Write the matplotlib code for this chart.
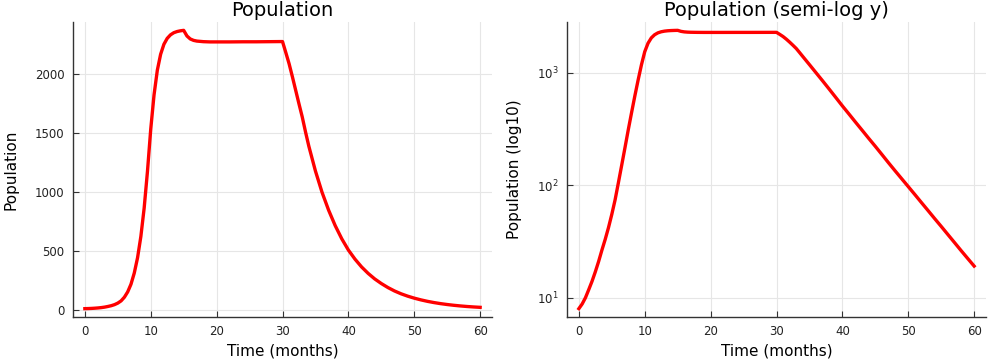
import numpy as np
import matplotlib
matplotlib.use("Agg")
from matplotlib import pyplot as plt
from matplotlib.ticker import FixedLocator, LogFormatterMathtext, NullLocator

# population (half-month steps where the curve bends)
months = [
    0, 0.5, 1, 1.5, 2, 2.5, 3, 3.5, 4, 4.5,
    5, 5.5, 6, 6.5, 7, 7.5, 8, 8.5, 9, 9.5,
    10, 10.5, 11, 11.5, 12, 12.5, 13, 13.5, 14, 14.5,
    15, 15.5, 16, 16.5, 17, 18, 19, 20, 22, 24,
    26, 28, 30, 30.5, 31, 31.5, 32, 32.5, 33, 33.5,
    34, 35, 36, 37, 38, 39, 40, 41, 42, 43,
    44, 45, 46, 47, 48, 49, 50, 51, 52, 53,
    54, 55, 56, 57, 58, 59, 60,
]
population = [
    8, 8.8, 10, 11.8, 14, 17, 21, 26.5, 33, 42,
    55, 74, 105, 150, 215, 310, 440, 620, 860, 1170,
    1530, 1820, 2030, 2165, 2250, 2300, 2330, 2348, 2358, 2364,
    2368, 2320, 2295, 2283, 2277, 2272, 2270, 2270, 2270, 2271,
    2271, 2272, 2273, 2180, 2085, 1975, 1860, 1745, 1633, 1505,
    1385, 1175, 995, 843, 712, 600, 505, 428, 362, 307,
    260, 221, 187, 158, 134, 114, 97, 82.5, 70, 59.5,
    50.5, 43, 36.5, 31, 26.3, 22.4, 19.1,
]
xticks = [0, 10, 20, 30, 40, 50, 60]
yticks_lin = [0, 500, 1000, 1500, 2000]
yticks_log = [10, 100, 1000]

W, H = 997, 363
fig = plt.figure(figsize=(W / 100, H / 100), dpi=100)

def style(ax):
    for s in ("top", "right"):
        ax.spines[s].set_visible(False)
    for s in ("left", "bottom"):
        ax.spines[s].set_color("#333333")
        ax.spines[s].set_linewidth(1.0)
    ax.grid(True, color="#e6e6e6", linewidth=0.8)
    ax.set_axisbelow(True)
    ax.tick_params(direction="in", length=4, width=0.8, color="#333333",
                   labelsize=8.5, labelcolor="#222222", pad=6)
    ax.set_xticks(xticks)
    ax.set_xlim(-1.8, 61.8)
    ax.set_xlabel("Time (months)", fontsize=11, labelpad=4)

def box(l, t, r, b):
    return [l / W, 1 - b / H, (r - l) / W, (b - t) / H]

ax1 = fig.add_axes(box(73, 22, 492, 317))
ax1.plot(months, population, color="red", linewidth=2.4,
         solid_joinstyle="round")
style(ax1)
ax1.set_yticks(yticks_lin)
lo, hi = min(population), max(population)
r = hi - lo
ax1.set_ylim(lo - 0.03 * r, hi + 0.03 * r)
ax1.set_ylabel("Population", fontsize=11, labelpad=12)
ax1.set_title("Population", fontsize=14, pad=4)

ax2 = fig.add_axes(box(567, 22, 986, 317))
ax2.plot(months, population, color="red", linewidth=2.4,
         solid_joinstyle="round")
ax2.set_yscale("log")
style(ax2)
ax2.yaxis.set_major_locator(FixedLocator(yticks_log))
ax2.yaxis.set_major_formatter(LogFormatterMathtext())
ax2.yaxis.set_minor_locator(NullLocator())
llo, lhi = np.log10(lo), np.log10(hi)
lr = lhi - llo
ax2.set_ylim(10 ** (llo - 0.03 * lr), 10 ** (lhi + 0.03 * lr))
ax2.set_ylabel("Population (log10)", fontsize=11, labelpad=11)
ax2.set_title("Population (semi-log y)", fontsize=14, pad=4)

fig.savefig("out.png", dpi=100)
